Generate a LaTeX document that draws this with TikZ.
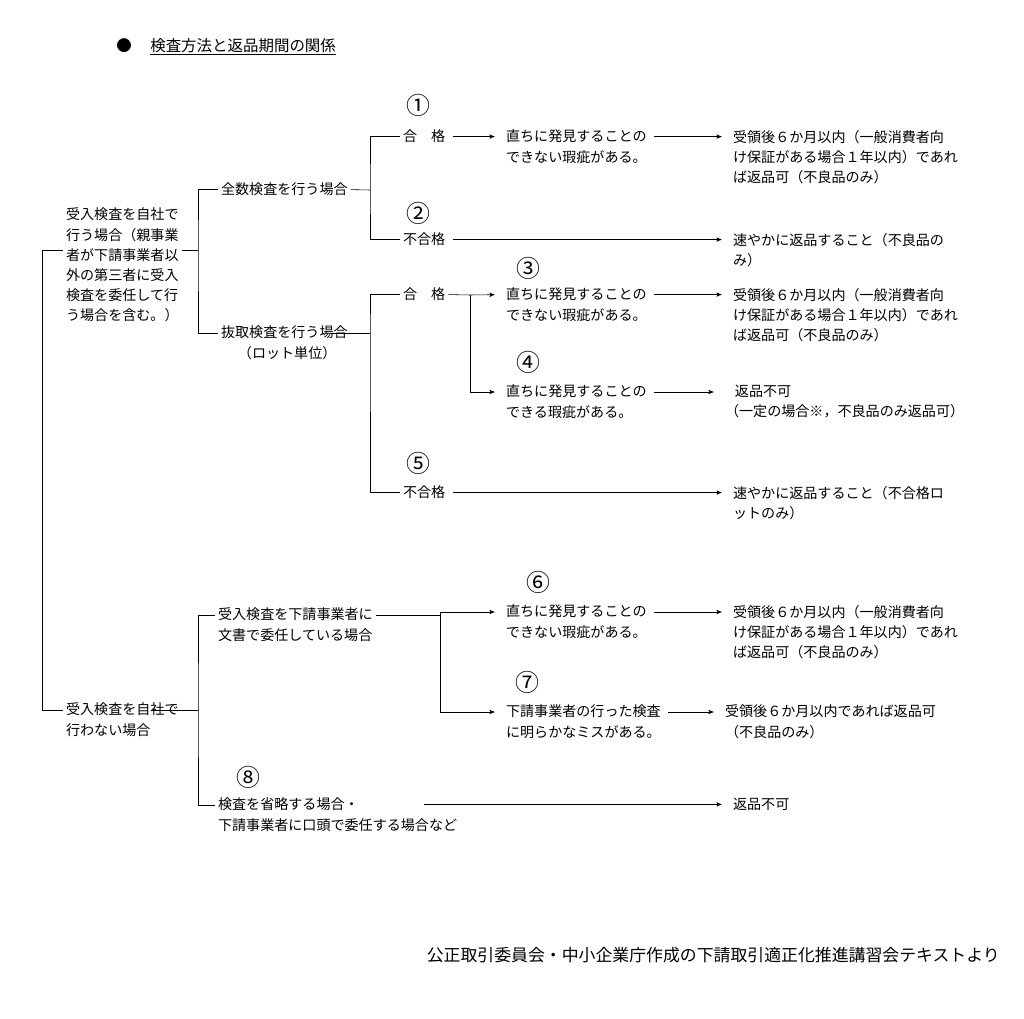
\documentclass[tikz,border=0pt]{standalone}
\usepackage{fontspec}
\setmainfont{Noto Sans CJK JP}
\usetikzlibrary{arrows,positioning}
\tikzset{
	txt/.style={anchor=north west,align=left,inner sep=2pt,font=\fontsize{10}{14.3}\selectfont},
	num/.style={inner sep=0pt,font=\fontsize{17}{17}\selectfont},
	arr/.style={->,>=stealth',shorten <=3pt,shorten >=6pt}
}
\begin{document}
\begin{tikzpicture}[x=0.025cm,y=-0.025cm,thin]
	\useasboundingbox (0,0) rectangle (1024,1018);
	\node [anchor=west,inner sep=0pt,font=\fontsize{11}{14}\selectfont] (title) at (116,47) {●\hspace{1.2em}\underline{検査方法と返品期間の関係}};
	% left side
	\node [txt] (in1) at (63,205) {受入検査を自社で\\行う場合（親事業\\者が下請事業者以\\外の第三者に受入\\検査を委任して行\\う場合を含む。）};
	\node [txt] (in2) at (63,700) {受入検査を自社で\\行わない場合};
	\node [txt] (zen) at (218,180) {全数検査を行う場合};
	\node [txt] (nuki) at (218,323) {抜取検査を行う場合\\\hspace{1.2em}（ロット単位）};
	\node [txt] (bun) at (215,605) {受入検査を下請事業者に\\文書で委任している場合};
	\node [txt] (sho) at (215,795) {検査を省略する場合・\\下請事業者に口頭で委任する場合など};
	% judgements
	\node [txt] (g1) at (400,127) {合\hspace{1em}格};
	\node [txt] (f1) at (400,230) {不合格};
	\node [txt] (g2) at (400,285) {合\hspace{1em}格};
	\node [txt] (f2) at (400,483) {不合格};
	\node [txt] (d1) at (503,127) {直ちに発見することの\\できない瑕疵がある。};
	\node [txt] (d3) at (503,285) {直ちに発見することの\\できない瑕疵がある。};
	\node [txt] (d4) at (503,382) {直ちに発見することの\\できる瑕疵がある。};
	\node [txt] (d6) at (503,602) {直ちに発見することの\\できない瑕疵がある。};
	\node [txt] (d7) at (503,702) {下請事業者の行った検査\\に明らかなミスがある。};
	% results
	\node [txt] (r1) at (730,127) {受領後６か月以内（一般消費者向\\け保証がある場合１年以内）であれ\\ば返品可（不良品のみ）};
	\node [txt] (r2) at (730,230) {速やかに返品すること（不良品の\\み）};
	\node [txt] (r3) at (730,285) {受領後６か月以内（一般消費者向\\け保証がある場合１年以内）であれ\\ば返品可（不良品のみ）};
	\node [txt] (r4) at (722,382) {\hspace{0.7em}返品不可\\（一定の場合※，不良品のみ返品可）};
	\node [txt] (r5) at (730,483) {速やかに返品すること（不合格ロ\\ットのみ）};
	\node [txt] (r6) at (730,602) {受領後６か月以内（一般消費者向\\け保証がある場合１年以内）であれ\\ば返品可（不良品のみ）};
	\node [txt] (r7) at (722,702) {受領後６か月以内であれば返品可\\（不良品のみ）};
	\node [txt] (r8) at (730,795) {返品不可};
	% numbers
	\node [num] (n1) at (418,105) {①};
	\node [num] (n2) at (418,213) {②};
	\node [num] (n3) at (528,268) {③};
	\node [num] (n4) at (528,362) {④};
	\node [num] (n5) at (418,463) {⑤};
	\node [num] (n6) at (538,582) {⑥};
	\node [num] (n7) at (527,682) {⑦};
	\node [num] (n8) at (248,777) {⑧};
	\node [anchor=east,inner sep=0pt,font=\fontsize{12}{14}\selectfont] (foot) at (1000,955) {公正取引委員会・中小企業庁作成の下請取引適正化推進講習会テキストより};
	% first lines
	\path (nuki.north west) ++(0,10) coordinate (nukiL);
	\path (nuki.north east) ++(-20,10) coordinate (nukiR);
	\path (bun.north west) ++(0,10) coordinate (bunL);
	\path (bun.north east) ++(0,10) coordinate (bunR);
	\path (sho.north west) ++(0,10) coordinate (shoL);
	\path (in2.north east) ++(-30,10) coordinate (in2R);
	\path (d4.north west) ++(0,10) coordinate (d4a);
	\path (d6.north west) ++(0,10) coordinate (d6a);
	\path (d7.north west) ++(0,10) coordinate (d7a);
	% brackets
	\coordinate (k1) at (42,250);
	\coordinate (k2) at (42,710);
	\draw (k1 -| in1.west) -- (k1) -- (k2) -- (k2 -| in2.west);
	\draw (k1 -| in1.east) -- (198,250) coordinate (m1);
	\draw (zen.west) -| (m1) |- (nukiL);
	\draw (zen.east) -- (370,190) coordinate (m2);
	\draw (g1.west) -| (m2) |- (f1.west);
	\draw (nukiR) -- (370,333) coordinate (m3);
	\draw (g2.west) -| (m3) |- (f2.west);
	\draw (in2R) -- (198,710) coordinate (m5);
	\draw (bunL) -| (m5) |- (shoL);
	% arrows
	\draw [arr] (g1.east) -- (g1.east -| d1.west);
	\draw [arr] (g1.east -| d1.east) -- (g1.east -| r1.west);
	\draw [arr] (f1.east) -- (f1.east -| r2.west);
	\draw (g2.east) -- (470,295) coordinate (m4);
	\draw [arr,shorten <=0pt] (m4) -- (g2.east -| d3.west);
	\draw [arr,shorten <=0pt] (m4) |- (d4a);
	\draw [arr] (g2.east -| d3.east) -- (g2.east -| r3.west);
	\draw [arr] (d4a -| d4.east) -- (d4a -| r4.west);
	\draw [arr] (f2.east) -- (f2.east -| r5.west);
	\draw (bunR) -- (440,615) coordinate (m6);
	\draw [arr,shorten <=0pt] (m6) |- (d6a);
	\draw [arr,shorten <=0pt] (m6) |- (d7a);
	\draw [arr] (d6a -| d6.east) -- (d6a -| r6.west);
	\draw [arr] (d7a -| d7.east) -- (d7a -| r7.west);
	\draw [arr] ([xshift=-1cm]sho.east |- r8.west) -- (r8.west);
\end{tikzpicture}
\end{document}
